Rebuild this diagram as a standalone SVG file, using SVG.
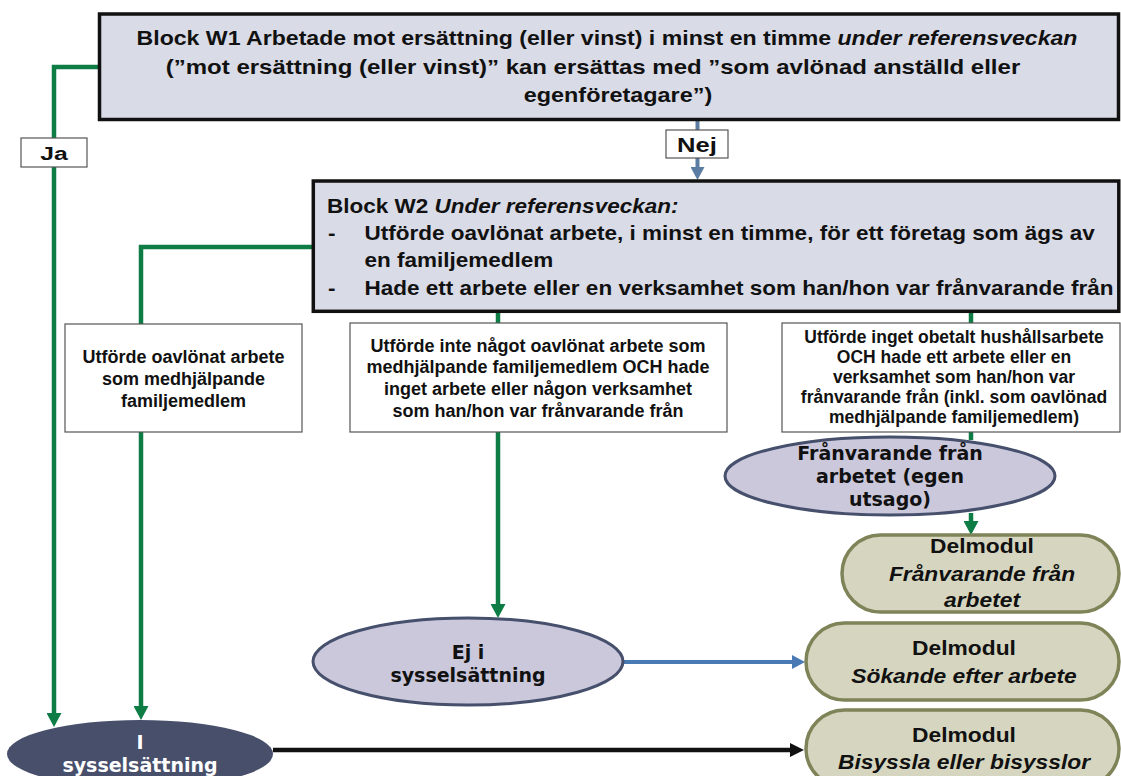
<svg xmlns="http://www.w3.org/2000/svg" width="1121" height="776" viewBox="0 0 1121 776">
<defs>
<style>
.ar{font-family:"Liberation Sans",Arial,Helvetica,sans-serif;font-weight:bold;fill:#111}
.vd{font-family:"DejaVu Sans",Verdana,sans-serif;font-weight:bold;font-size:19px;text-anchor:middle;fill:#111}
.blk{fill:#d9dbe6;stroke:#111;stroke-width:3.5}
.wb{fill:#fff;stroke:#555;stroke-width:1.2}
.ell{fill:#cbc8dc;stroke:#46506c;stroke-width:3}
.dm{fill:#d6d6c0;stroke:#7f8358;stroke-width:3.5}
.g{stroke:#0e7c45;stroke-width:4.5;fill:none}
.mid{text-anchor:middle}
.it{font-style:italic}
.s18{font-size:18px}
.s17{font-size:17.5px}
</style>
<marker id="ag" viewBox="0 0 14 15" refX="4" refY="7.5" markerWidth="14" markerHeight="15" markerUnits="userSpaceOnUse" orient="auto"><path d="M0,0 L14,7.5 L0,15 z" fill="#0e7c45"/></marker>
<marker id="an" viewBox="0 0 13 14" refX="3" refY="7" markerWidth="13" markerHeight="14" markerUnits="userSpaceOnUse" orient="auto"><path d="M0,0 L13,7 L0,14 z" fill="#5b7ca3"/></marker>
<marker id="ab" viewBox="0 0 13 14" refX="3" refY="7" markerWidth="13" markerHeight="14" markerUnits="userSpaceOnUse" orient="auto"><path d="M0,0 L13,7 L0,14 z" fill="#4a7ab4"/></marker>
<marker id="ak" viewBox="0 0 14 14" refX="4" refY="7" markerWidth="14" markerHeight="14" markerUnits="userSpaceOnUse" orient="auto"><path d="M0,0 L14,7 L0,14 z" fill="#111"/></marker>
</defs>
<rect width="1121" height="776" fill="#fff"/>

<g id="connectors">
<path class="g" d="M99,67 H54 V717" marker-end="url(#ag)"/>
<path class="g" d="M313,247 H141 V710" marker-end="url(#ag)"/>
<path class="g" d="M498,312 V608" marker-end="url(#ag)"/>
<path class="g" d="M971,312 V440"/>
<path class="g" d="M971,513 V525" marker-end="url(#ag)"/>
<path d="M697.5,121 V170" stroke="#5b7ca3" stroke-width="4" fill="none" marker-end="url(#an)"/>
<path d="M622,662 H795" stroke="#4a7ab4" stroke-width="4" fill="none" marker-end="url(#ab)"/>
<path d="M273,750 H794" stroke="#111" stroke-width="4.5" fill="none" marker-end="url(#ak)"/>
<g id="label-ja">
<rect class="wb" x="21" y="138" width="66" height="29"/>
<text class="ar mid" font-size="19" transform="translate(54,160) scale(1.3,1)">Ja</text>
</g>
<g id="label-nej">
<rect class="wb" x="666" y="130" width="62" height="28"/>
<text class="ar mid" font-size="20" transform="translate(697,152) scale(1.28,1)">Nej</text>
</g>
</g>

<g id="w1">
<rect class="blk" x="99.5" y="14" width="1019" height="105.5"/>
<text class="ar mid" font-size="20" transform="translate(607,45) scale(1.155,1)">Block W1 Arbetade mot ersättning (eller vinst) i minst en timme <tspan class="it">under referensveckan</tspan></text>
<text class="ar mid" font-size="20" transform="translate(593,73.5) scale(1.2,1)">(”mot ersättning (eller vinst)” kan ersättas med ”som avlönad anställd eller</text>
<text class="ar mid" font-size="20" transform="translate(618,102) scale(1.17,1)">egenföretagare”)</text>
</g>

<g id="w2">
<rect class="blk" x="313.3" y="181" width="805.5" height="130.3"/>
<text class="ar" font-size="19.5" transform="translate(327,213) scale(1.155,1)">Block W2 <tspan class="it">Under referensveckan:</tspan></text>
<text class="ar" font-size="19.5" transform="translate(328,240) scale(1.155,1)">-</text>
<text class="ar" font-size="19.5" transform="translate(364.5,240) scale(1.155,1)">Utförde oavlönat arbete, i minst en timme, för ett företag som ägs av</text>
<text class="ar" font-size="19.5" transform="translate(364.5,267) scale(1.155,1)">en familjemedlem</text>
<text class="ar" font-size="19.5" transform="translate(328,295) scale(1.155,1)">-</text>
<text class="ar" font-size="19.5" transform="translate(364.5,295) scale(1.155,1)">Hade ett arbete eller en verksamhet som han/hon var frånvarande från</text>
</g>

<g id="box-familj">
<rect class="wb" x="65" y="324" width="237" height="108"/>
<text class="ar mid s18" x="183.5" y="363">Utförde oavlönat arbete</text>
<text class="ar mid s18" x="183.5" y="385">som medhjälpande</text>
<text class="ar mid s18" x="183.5" y="407">familjemedlem</text>
</g>

<g id="box-inget">
<rect class="wb" x="350" y="323" width="377" height="109"/>
<text class="ar mid s18" x="538" y="352">Utförde inte något oavlönat arbete som</text>
<text class="ar mid s18" x="538" y="373">medhjälpande familjemedlem OCH hade</text>
<text class="ar mid s18" x="538" y="395">inget arbete eller någon verksamhet</text>
<text class="ar mid s18" x="538" y="417">som han/hon var frånvarande från</text>
</g>

<g id="box-franvarande">
<rect class="wb" x="782" y="323" width="338" height="109"/>
<text class="ar mid s17" x="954" y="343">Utförde inget obetalt hushållsarbete</text>
<text class="ar mid s17" x="954" y="363">OCH hade ett arbete eller en</text>
<text class="ar mid s17" x="954" y="383">verksamhet som han/hon var</text>
<text class="ar mid s17" x="954" y="403">frånvarande från (inkl. som oavlönad</text>
<text class="ar mid s17" x="954" y="423">medhjälpande familjemedlem)</text>
</g>

<g id="ell-franvarande">
<ellipse class="ell" cx="890" cy="476" rx="165" ry="39"/>
<text class="vd" x="890" y="460">Frånvarande från</text>
<text class="vd" x="890" y="483">arbetet (egen</text>
<text class="vd" x="890" y="506">utsago)</text>
</g>

<g id="ell-ej">
<ellipse class="ell" cx="468" cy="661.5" rx="155" ry="43.5"/>
<text class="vd" x="468" y="659">Ej i</text>
<text class="vd" x="468" y="682">sysselsättning</text>
</g>

<g id="ell-i">
<ellipse cx="140" cy="754" rx="133" ry="34" fill="#474f6b"/>
<text class="vd" x="140" y="749" style="fill:#fff">I</text>
<text class="vd" x="140" y="772" style="fill:#fff">sysselsättning</text>
</g>

<g id="dm-franvarande">
<rect class="dm" x="842" y="535" width="277" height="77" rx="38.5"/>
<text class="ar mid" font-size="20" transform="translate(982,553) scale(1.14,1)">Delmodul</text>
<text class="ar mid it" font-size="20" transform="translate(982,581) scale(1.14,1)">Frånvarande från</text>
<text class="ar mid it" font-size="20" transform="translate(982,607) scale(1.14,1)">arbetet</text>
</g>

<g id="dm-sokande">
<rect class="dm" x="806" y="623" width="313" height="77" rx="38.5"/>
<text class="ar mid" font-size="20" transform="translate(964,655) scale(1.14,1)">Delmodul</text>
<text class="ar mid it" font-size="20" transform="translate(964,683) scale(1.14,1)">Sökande efter arbete</text>
</g>

<g id="dm-bisyssla">
<rect class="dm" x="806" y="710" width="313" height="77" rx="38.5"/>
<text class="ar mid" font-size="20" transform="translate(964,742) scale(1.14,1)">Delmodul</text>
<text class="ar mid it" font-size="20" transform="translate(964,769) scale(1.14,1)">Bisyssla eller bisysslor</text>
</g>
</svg>
